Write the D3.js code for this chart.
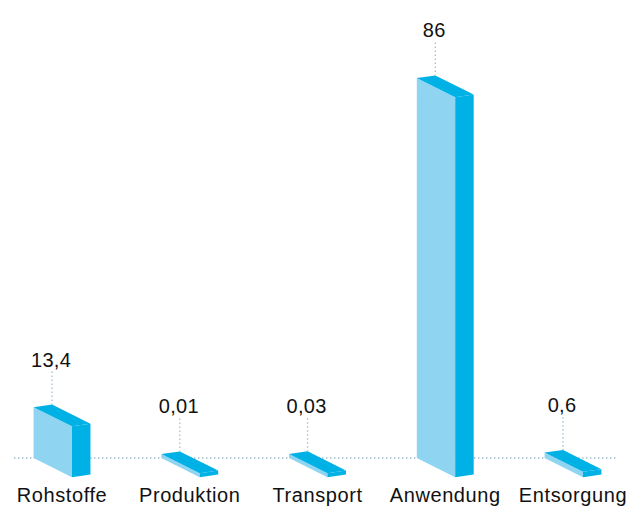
<!DOCTYPE html>
<html>
<head>
<meta charset="utf-8">
<script src="https://cdn.jsdelivr.net/npm/d3@7"></script>
<style>
  body { margin: 0; background: #fff; }
  svg { display: block; font-family: "Liberation Sans", Arial, sans-serif; }
</style>
</head>
<body>
<svg id="chart" width="641" height="507"></svg>
<script>
// Data
const categories = ["Rohstoffe", "Produktion", "Transport", "Anwendung", "Entsorgung"];
const values = [13.4, 0.01, 0.03, 86, 0.6];

const svg = d3.select("#chart");
const baseY = 458;

// pseudo 3D offsets
const front = {dx: 38.4, dy: 19.2};
const side = {dx: 18.5, dy: -2.6};

const x = d3.scalePoint().domain(categories).range([62, 573]);
// bar height (slightly non-linear like the original, with a minimum thickness)
const h = d3.scalePow().exponent(1.12).domain([0, 86]).range([4, 380]);

const de = d3.formatLocale({decimal: ",", thousands: ".", grouping: [3], currency: ["", " €"]});
const fmt = de.format("~g");

const frontColor = "#8fd5f2";
const darkColor = "#00b1e6";
const dotColor = "#a3bfd2";

// baseline
svg.append("line")
  .attr("x1", 14).attr("x2", 618)
  .attr("y1", baseY).attr("y2", baseY)
  .attr("stroke", dotColor)
  .attr("stroke-width", 1.3)
  .attr("stroke-dasharray", "1.5,2.5");

const bars = categories.map((c, i) => {
  const x0 = x(c) - (front.dx + side.dx) / 2;
  return {cat: c, v: values[i], x0: x0, top: baseY - h(values[i])};
});

const g = svg.append("g");

bars.forEach(b => {
  const x0 = b.x0, t = b.top;
  const fx = x0 + front.dx, fy = front.dy;
  const pts = arr => arr.map(p => p.join(",")).join(" ");

  // front face
  g.append("polygon")
    .attr("points", pts([[x0, t], [fx, t + fy], [fx, baseY + fy], [x0, baseY]]))
    .attr("fill", frontColor);
  // side face
  g.append("polygon")
    .attr("points", pts([[fx, t + fy], [fx + side.dx, t + fy + side.dy], [fx + side.dx, baseY + fy + side.dy], [fx, baseY + fy]]))
    .attr("fill", darkColor);
  // top face
  g.append("polygon")
    .attr("points", pts([[x0, t], [x0 + side.dx, t + side.dy], [fx + side.dx, t + fy + side.dy], [fx, t + fy]]))
    .attr("fill", darkColor);

  const bx = x0 + side.dx, by = t + side.dy;
  // leader
  svg.append("line")
    .attr("x1", bx).attr("x2", bx)
    .attr("y1", by - 33).attr("y2", by)
    .attr("stroke", dotColor)
    .attr("stroke-width", 1.3)
    .attr("stroke-dasharray", "1.5,2.5");
  // value label
  svg.append("text")
    .attr("x", bx - 1)
    .attr("y", by - 38)
    .attr("text-anchor", "middle")
    .attr("fill", "#111")
    .style("font-size", "20px")
    .style("letter-spacing", "0.3px")
    .text(fmt(b.v));
});

// category labels
svg.selectAll("text.cat")
  .data(categories)
  .join("text")
  .attr("class", "cat")
  .attr("x", d => x(d))
  .attr("y", 502)
  .attr("text-anchor", "middle")
  .attr("fill", "#111")
  .style("font-size", "20px")
  .style("letter-spacing", "0.6px")
  .text(d => d);
</script>
</body>
</html>
